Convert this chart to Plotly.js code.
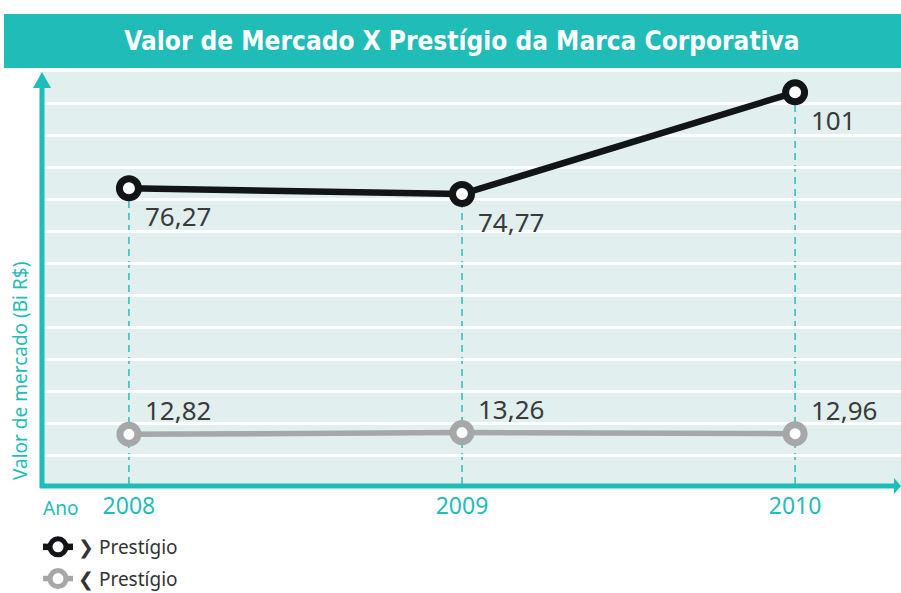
<!DOCTYPE html>
<html>
<head>
<meta charset="utf-8">
<script src="https://cdn.plot.ly/plotly-3.0.1.min.js"></script>
<style>html,body{margin:0;padding:0;background:#fff;}#chart{width:901px;height:593px;}</style>
</head>
<body>
<div id="chart"></div>
<script>
// ---- data ----
const years = [2008, 2009, 2010];
const tickLabels = ['2008', '2009', '2010'];
const maisPrestigio = [76.27, 74.77, 101];
const menosPrestigio = [12.82, 13.26, 12.96];
const seriesNames = ['❯ Prestígio', '❮ Prestígio'];
const chartTitle = 'Valor de Mercado X Prestígio da Marca Corporativa';
const yTitle = 'Valor de mercado (Bi R$)';
const xTitle = 'Ano';

// ---- layout constants ----
const W = 901, H = 593;
const M = {l: 40, r: 0, t: 72, b: 108, autoexpand: false};
const PW = W - M.l - M.r, PH = H - M.t - M.b;
const TEAL = '#1fbcb8';
const px = v => (v - M.l) / PW;
const py = v => (H - M.b - v) / PH;
const fmt = v => String(v).replace('.', ',');

const traces = [
  {
    x: years, y: maisPrestigio, name: seriesNames[0], mode: 'lines+markers',
    line: {color: '#121417', width: 6.5},
    marker: {symbol: 'circle', size: 19, color: '#ffffff', line: {color: '#121417', width: 7}},
    legendgroup: 'a', cliponaxis: false, hoverinfo: 'skip'
  },
  {
    x: years, y: menosPrestigio, name: seriesNames[1], mode: 'lines+markers',
    line: {color: '#a5a7a9', width: 5.5},
    marker: {symbol: 'circle', size: 18, color: '#ffffff', line: {color: '#a5a7a9', width: 7}},
    legendgroup: 'b', cliponaxis: false, hoverinfo: 'skip'
  }
];

const labelFont = {family: 'Noto Sans, sans-serif', size: 26, color: '#3a3a3a'};
const annotations = [];
years.forEach((yr, i) => {
  annotations.push({x: yr, y: maisPrestigio[i], xref: 'x', yref: 'y', text: fmt(maisPrestigio[i]),
    showarrow: false, xanchor: 'left', yanchor: 'middle', xshift: 14, yshift: -28, font: labelFont});
  annotations.push({x: yr, y: menosPrestigio[i], xref: 'x', yref: 'y', text: fmt(menosPrestigio[i]),
    showarrow: false, xanchor: 'left', yanchor: 'middle', xshift: 14, yshift: 24, font: labelFont});
});
annotations.push({x: px(20), y: py(371), xref: 'paper', yref: 'paper', text: yTitle, textangle: -90,
  showarrow: false, xanchor: 'center', yanchor: 'middle',
  font: {family: 'Noto Sans, sans-serif', size: 19, color: TEAL}});
annotations.push({x: px(41), y: py(508), xref: 'paper', yref: 'paper', text: xTitle,
  showarrow: false, xanchor: 'left', yanchor: 'middle',
  font: {family: 'Noto Sans, sans-serif', size: 19, color: TEAL}});

const shapes = [];
// title bar
shapes.push({type: 'rect', xref: 'paper', yref: 'paper', x0: px(4), x1: px(901), y0: py(68), y1: py(14),
  fillcolor: TEAL, line: {width: 0}, layer: 'above'});
// dashed guides
years.forEach((yr, i) => {
  shapes.push({type: 'line', xref: 'x', yref: 'y', x0: yr, x1: yr, y0: 0, y1: maisPrestigio[i],
    line: {color: '#2cbdb8', width: 1.5, dash: '7px,5px'}, layer: 'below'});
});
// axis lines with arrows
shapes.push({type: 'line', xref: 'paper', yref: 'paper', x0: px(42), x1: px(42), y0: py(488), y1: py(84),
  line: {color: TEAL, width: 5}, layer: 'above'});
shapes.push({type: 'path', xref: 'paper', yref: 'paper',
  path: `M ${px(33)},${py(88)} L ${px(42)},${py(72)} L ${px(51)},${py(88)} Z`,
  fillcolor: TEAL, line: {width: 0}, layer: 'above'});
shapes.push({type: 'line', xref: 'paper', yref: 'paper', x0: px(40), x1: px(895), y0: py(486), y1: py(486),
  line: {color: TEAL, width: 5}, layer: 'above'});
shapes.push({type: 'path', xref: 'paper', yref: 'paper',
  path: `M ${px(894)},${py(478)} L ${px(901)},${py(486)} L ${px(894)},${py(494)} Z`,
  fillcolor: TEAL, line: {width: 0}, layer: 'above'});

const layout = {
  width: W, height: H,
  margin: M,
  paper_bgcolor: '#ffffff',
  plot_bgcolor: '#e1f0ef',
  font: {family: 'Noto Sans, sans-serif', color: '#333333'},
  title: {
    text: chartTitle, xref: 'container', x: 462 / W, xanchor: 'center',
    yref: 'container', y: 1 - 41 / H, yanchor: 'middle',
    font: {family: 'Liberation Sans Narrow, DejaVu Sans Condensed, sans-serif', size: 26, color: '#ffffff', weight: 700}
  },
  xaxis: {
    range: [2007.733, 2010.318], tickvals: years, ticktext: tickLabels,
    showgrid: false, zeroline: false, showline: false, ticks: '',
    ticklabelstandoff: 5,
    tickfont: {family: 'Noto Sans, sans-serif', size: 23, color: TEAL},
    fixedrange: true
  },
  yaxis: {
    range: [-0.26, 106.24], tick0: 7.22, dtick: 8.252,
    showgrid: true, gridcolor: '#ffffff', gridwidth: 3,
    zeroline: false, showline: false, showticklabels: false, ticks: '',
    fixedrange: true
  },
  showlegend: true,
  legend: {
    x: px(38), xanchor: 'left', y: py(528), yanchor: 'top',
    orientation: 'v', traceorder: 'grouped', tracegroupgap: 4,
    font: {family: 'Noto Sans, sans-serif', size: 19, color: '#333333'},
    bgcolor: 'rgba(0,0,0,0)'
  },
  annotations: annotations,
  shapes: shapes,
  hovermode: false
};

Plotly.newPlot('chart', traces, layout, {staticPlot: true, displayModeBar: false});
</script>
</body>
</html>
